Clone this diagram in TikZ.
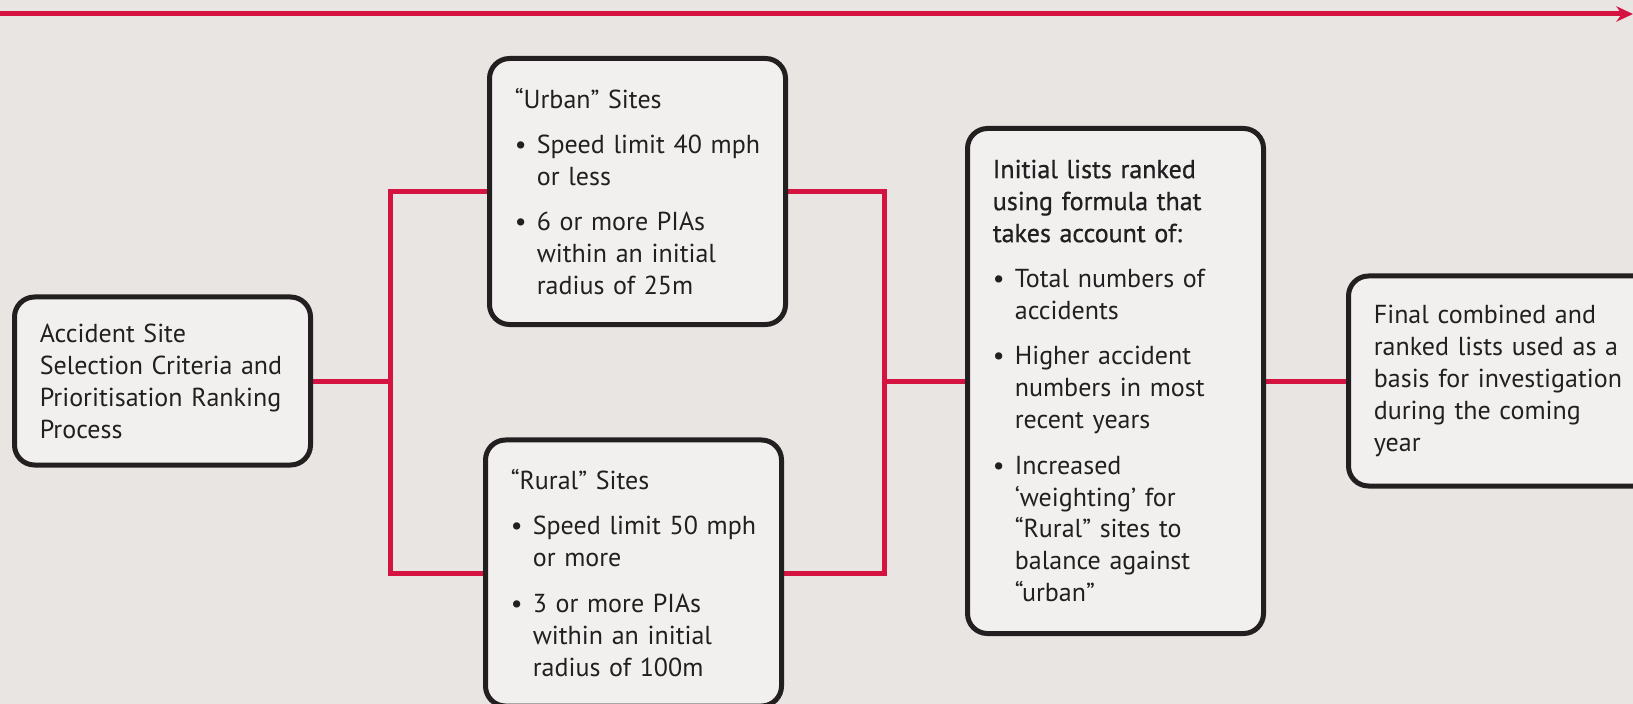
\documentclass[tikz,border=0pt]{standalone}
\usepackage{fontspec}
\setmainfont{PT Sans}
\newfontfamily\headfont[FakeBold=0.8]{PT Sans}
\usetikzlibrary{arrows.meta}
\usetikzlibrary{backgrounds}

\definecolor{pagebg}{RGB}{232,229,226}
\definecolor{boxfill}{RGB}{241,240,239}
\definecolor{boxline}{RGB}{35,31,32}
\definecolor{roadred}{RGB}{213,19,64}

% bullet line with hanging indent
\newcommand{\itm}{\par\vspace{0.4cm}\hangindent=0.66cm\hangafter=1\noindent\makebox[0.66cm][l]{\textbullet}}

\tikzset{
  stagebox/.style={draw=boxline, fill=boxfill, line width=0.15cm, rounded corners=0.6cm,
    anchor=west, minimum width=8.88cm, text width=7.36cm, inner xsep=0.76cm, align=left,
    text=boxline, font=\fontsize{22.2}{27.3}\selectfont},
  link/.style={draw=roadred, line width=0.15cm},
}

\begin{document}
\begin{tikzpicture}[x=0.03cm,y=-0.03cm]
\useasboundingbox (0,0) rectangle (1633,704);
\begin{scope}[on background layer]
\fill[pagebg] (0,0) rectangle (1633,704);
\end{scope}

\coordinate(tstart) at (0,14);
\coordinate(tend) at (1633,14);
\draw[link,-{Stealth[length=0.5cm,width=0.46cm]}] (tstart) -- (tend);

\node[stagebox, minimum height=5.04cm] (site) at (12,381)
  {Accident Site\newline Selection Criteria and\newline Prioritisation Ranking\newline Process};
\node[stagebox, minimum height=7.98cm] (urban) at (487,191.5)
  {``Urban'' Sites
   \itm Speed limit 40 mph\newline or less
   \itm 6 or more PIAs\newline within an initial\newline radius of 25m\par};
\node[stagebox, minimum height=7.98cm] (rural) at (483,573)
  {``Rural'' Sites
   \itm Speed limit 50 mph\newline or more
   \itm 3 or more PIAs\newline within an initial\newline radius of 100m\par};
\node[stagebox, minimum height=15.15cm] (rank) at (965,381)
  {{\headfont Initial lists ranked\newline using formula that\newline takes account of:}
   \itm Total numbers of\newline accidents
   \itm Higher accident\newline numbers in most\newline recent years
   \itm Increased\newline `weighting' for\newline ``Rural'' sites to\newline balance against\newline ``urban''\par};
\node[stagebox, text width=8.2cm, minimum height=6.3cm] (final) at (1346,381)
  {Final combined and\newline ranked lists used as a\newline basis for investigation\newline during the coming\newline year};

\coordinate(jl) at (390,381);
\coordinate(jr) at (884,381);
\begin{scope}[on background layer]
\draw[link] (site.east) -- (jl);
\draw[link] (urban.west) -| (jl) |- (rural.west);
\draw[link] (urban.east) -| (jr) |- (rural.east);
\draw[link] (jr) -- (rank.west);
\draw[link] (rank.east) -- (final.west);
\end{scope}
\end{tikzpicture}
\end{document}
